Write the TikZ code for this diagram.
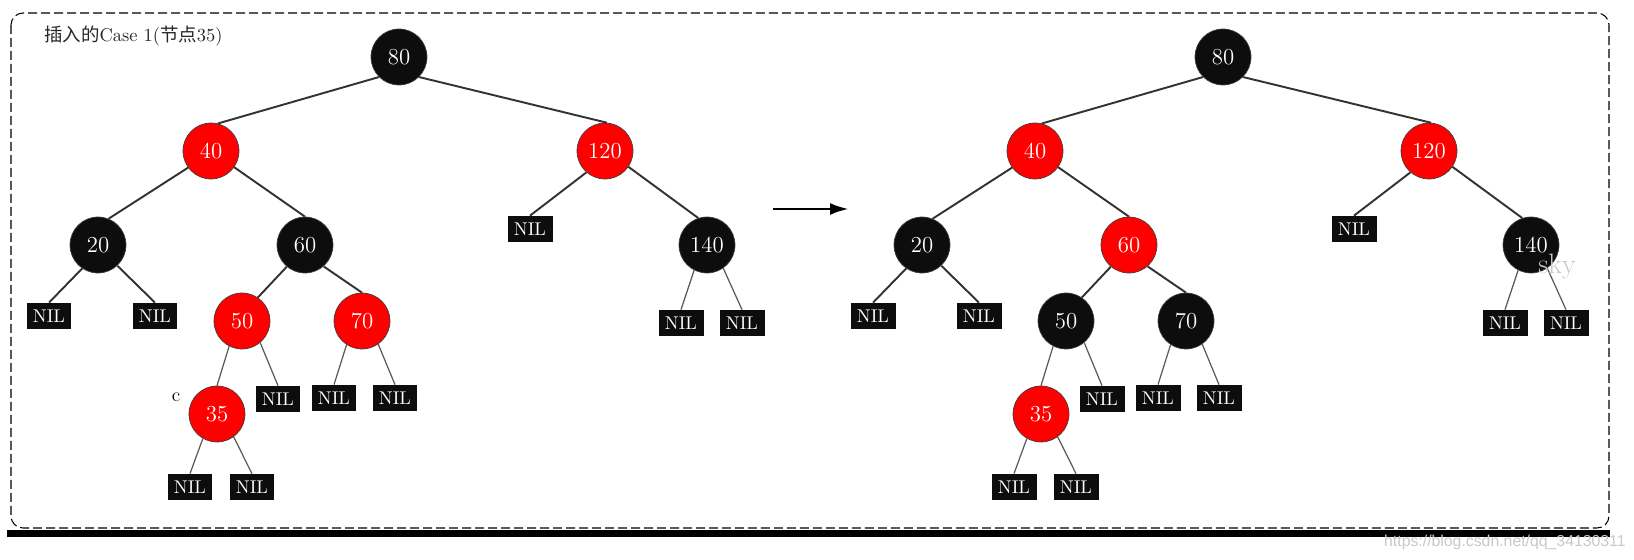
\documentclass[tikz,border=0pt]{standalone}
\usepackage{fontspec}
\newfontfamily\cjkfont{Noto Sans CJK SC}
\newfontfamily\urlfont{Liberation Sans}
\usetikzlibrary{arrows.meta,positioning}
\usepackage{xcolor}
\definecolor{NodeRed}{HTML}{FF0000}
\definecolor{NodeBlack}{HTML}{0D0D0D}
\definecolor{EdgeGray}{HTML}{333333}
\definecolor{NilGray}{HTML}{5A5A5A}
\definecolor{MarkGray}{HTML}{C8C8C8}

\begin{document}
\begin{tikzpicture}[
  x=0.02cm, y=-0.02cm,
  rbnode/.style={circle, minimum size=1.12cm, inner sep=0pt, draw=black!75,
                 line width=0.4pt, text=white, font=\fontsize{13}{15}\selectfont},
  nilbox/.style={fill=NodeBlack, minimum width=0.9cm, minimum height=0.52cm,
                 inner sep=0pt, text=white, font=\fontsize{10.5}{12}\selectfont},
  edge/.style={EdgeGray, line width=1.1pt},
  niledge/.style={NilGray, line width=0.7pt}
]
  \useasboundingbox (0,0) rectangle (1634,560);
  % frame and title
  \draw[dash pattern=on 0.18cm off 0.08cm, line width=0.6pt, rounded corners=0.24cm]
    (11,13) rectangle (1609,528);
  \fill[black] (7,530) rectangle (1610,537);
  \node[anchor=west, text=black!85, font=\fontsize{10.5}{12}\selectfont] (title) at (38,36)
    {{\cjkfont 插入的}Case 1({\cjkfont 节点}35)};

  % before
  \foreach \k/\x/\y/\c in {80/399/57/NodeBlack, 40/211/151/NodeRed, 120/605/151/NodeRed,
      20/98/245/NodeBlack, 60/305/245/NodeBlack, 140/707/245/NodeBlack,
      50/242/321/NodeRed, 70/362/321/NodeRed, 35/217/414/NodeRed}
    \node[rbnode, fill=\c] (l\k) at (\x,\y) {\k};
  \foreach \p/\s/\x/\y in {20/a/49/316, 20/b/155/316, 120/a/530/229, 140/a/681/323,
      140/b/742/323, 50/b/278/399, 70/a/334/398, 70/b/395/398, 35/a/190/487, 35/b/252/487}
    \node[nilbox] (l\p\s) at (\x,\y) {NIL};
  \foreach \a/\i/\b/\j in {80/225/40/76, 80/315/120/86, 40/216/20/68, 40/325/60/90,
      60/230/50/56, 60/311/70/90, 120/326/140/108}
    \draw[edge] (l\a.\i) -- (l\b.\j);
  \foreach \a/\i/\b in {20/236/20a, 20/313/20b, 120/229/120a}
    \draw[edge] (l\a.\i) -- (l\b.north);
  \draw[niledge] (l50.243) -- (l35.north);
  \foreach \a/\i/\b in {140/243/140a, 140/305/140b, 50/310/50b, 70/237/70a, 70/305/70b,
      35/240/35a, 35/306/35b}
    \draw[niledge] (l\a.\i) -- (l\b.north);
  \node[font=\fontsize{11}{12}\selectfont] (mark) at (176,397) {c};

  \coordinate (go) at (773,209);
  \coordinate (done) at (849,209);
  \draw[line width=1.7pt, -{Latex[length=0.38cm, width=0.24cm]}] (go) -- (done);

  % after
  \begin{scope}[shift={(824,0)}]
    \foreach \k/\x/\y/\c in {80/399/57/NodeBlack, 40/211/151/NodeRed, 120/605/151/NodeRed,
        20/98/245/NodeBlack, 60/305/245/NodeRed, 140/707/245/NodeBlack,
        50/242/321/NodeBlack, 70/362/321/NodeBlack, 35/217/414/NodeRed}
      \node[rbnode, fill=\c] (r\k) at (\x,\y) {\k};
    \foreach \p/\s/\x/\y in {20/a/49/316, 20/b/155/316, 120/a/530/229, 140/a/681/323,
        140/b/742/323, 50/b/278/399, 70/a/334/398, 70/b/395/398, 35/a/190/487, 35/b/252/487}
      \node[nilbox] (r\p\s) at (\x,\y) {NIL};
    \foreach \a/\i/\b/\j in {80/225/40/76, 80/315/120/86, 40/216/20/68, 40/325/60/90,
        60/230/50/56, 60/311/70/90, 120/326/140/108}
      \draw[edge] (r\a.\i) -- (r\b.\j);
    \foreach \a/\i/\b in {20/236/20a, 20/313/20b, 120/229/120a}
      \draw[edge] (r\a.\i) -- (r\b.north);
    \draw[niledge] (r50.243) -- (r35.north);
    \foreach \a/\i/\b in {140/243/140a, 140/305/140b, 50/310/50b, 70/237/70a, 70/305/70b,
        35/240/35a, 35/306/35b}
      \draw[niledge] (r\a.\i) -- (r\b.north);
  \end{scope}

  % watermarks
  \node[text=MarkGray, font=\fontsize{16}{18}\selectfont] (sky) at (1557,267) {sky};
  \node[anchor=east, text=MarkGray, inner sep=0pt, font=\urlfont\fontsize{9}{10}\selectfont]
    (url) at (1626,542) {https://blog.csdn.net/qq\_34130311};
\end{tikzpicture}
\end{document}
